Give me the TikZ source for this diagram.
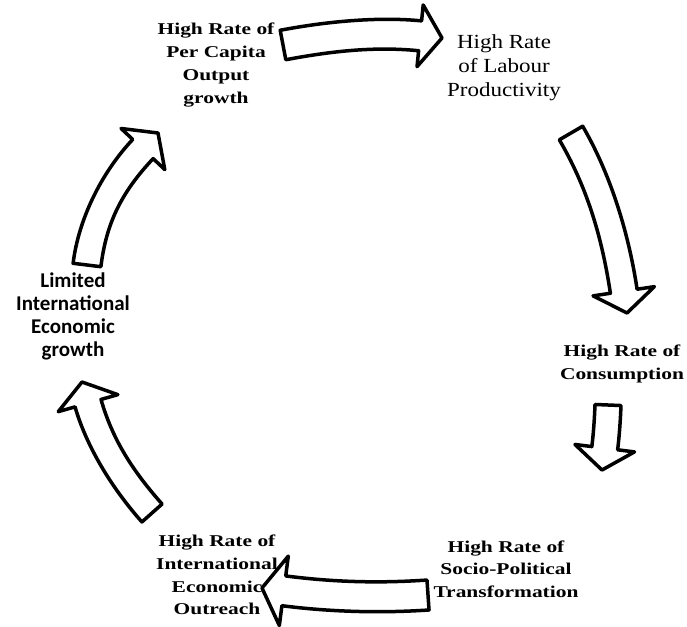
\documentclass[tikz,border=0pt]{standalone}
\usepackage{fontspec}
\setmainfont{Liberation Serif}
\newfontfamily\cycleserif[FakeStretch=1.3]{Liberation Serif}
\newfontfamily\cycleplain[FakeStretch=1.15]{Liberation Serif}
\newfontfamily\cyclesans{Carlito}
\usepackage{tikz}
\usetikzlibrary{calc, positioning}
\tikzset{stage/.style={align=center, inner sep=0pt, font=\cycleserif\bfseries\fontsize{16.5}{22.7}\selectfont},
  stageplain/.style={align=center, inner sep=0pt, font=\cycleplain\fontsize{20}{24}\selectfont},
  stagesans/.style={align=center, inner sep=0pt, font=\cyclesans\bfseries\fontsize{21}{23}\selectfont},
  fatline/.style={draw=black, fill=white, line width=3.5pt, line join=round}}
\def\headw{31pt}
\def\headlen{22pt}
% block arrow: [half width]{tail}{bend}{tip}
\newcommand{\fatarrow}[4][14pt]{%
  \path ($(#4)!\headlen!(#3)$) coordinate (hb)
        ($(#2)!#1!90:(#3)$) coordinate (t1)
        ($(#2)!#1!-90:(#3)$) coordinate (t2)
        ($(hb)!#1!90:(#4)$) coordinate (e1)
        ($(hb)!#1!-90:(#4)$) coordinate (e2)
        ($(hb)!\headw!90:(#4)$) coordinate (w1)
        ($(hb)!\headw!-90:(#4)$) coordinate (w2);
  \draw[fatline] (t1) .. controls ($(t1)+0.667*(#3)-0.667*(#2)$) and ($(e1)+0.667*(#3)-0.667*(hb)$) .. (e1)
    -- (w1) -- (#4) -- (w2) -- (e2)
    .. controls ($(e2)+0.667*(#3)-0.667*(hb)$) and ($(t2)+0.667*(#3)-0.667*(#2)$) .. (t2) -- cycle;
}

\begin{document}
\begin{tikzpicture}[x=1pt, y=-1pt]
    \useasboundingbox (0,0) rectangle (687,626);

    % the six stages
    \node (percap) [stage] at (216,65) {High Rate of\\Per Capita\\Output\\growth};
    \node (labour) [stageplain] at (504,68) {High Rate\\of Labour\\Productivity};
    \node (consum) [stage] at (622,364) {High Rate of\\Consumption};
    \node (socio) [stage] at (506,569) {High Rate of\\Socio-Political\\Transformation};
    \node (outreach) [stage] at (217,575) {High Rate of\\International\\Economic\\Outreach};
    \node (limited) [stagesans] at (73,316) {Limited\\International\\Economic\\growth};

    % tails, bends and tips of the arrows
    \coordinate (a1s) at (283,45);  \coordinate (a1b) at (362,30);  \coordinate (a1e) at (442,38);
    \coordinate (a2s) at (571,133); \coordinate (a2b) at (610,200); \coordinate (a2e) at (627,313);
    \coordinate (a3s) at (608,405); \coordinate (a3b) at (607,430); \coordinate (a3e) at (602,470);
    \coordinate (a4s) at (428,595); \coordinate (a4b) at (355,600); \coordinate (a4e) at (262,588);
    \coordinate (a5s) at (152,513); \coordinate (a5b) at (104,459); \coordinate (a5e) at (82,382);
    \coordinate (a6s) at (87,265);  \coordinate (a6b) at (95,200);  \coordinate (a6e) at (158,133);

    \fatarrow[15pt]{a1s}{a1b}{a1e}
    \fatarrow[13.5pt]{a2s}{a2b}{a2e}
    {\def\headw{30pt}\fatarrow[13pt]{a3s}{a3b}{a3e}}
    {\def\headw{35pt}\fatarrow[15pt]{a4s}{a4b}{a4e}}
    \fatarrow[13.5pt]{a5s}{a5b}{a5e}
    {\def\headw{30pt}\fatarrow[14pt]{a6s}{a6b}{a6e}}
\end{tikzpicture}
\end{document}
